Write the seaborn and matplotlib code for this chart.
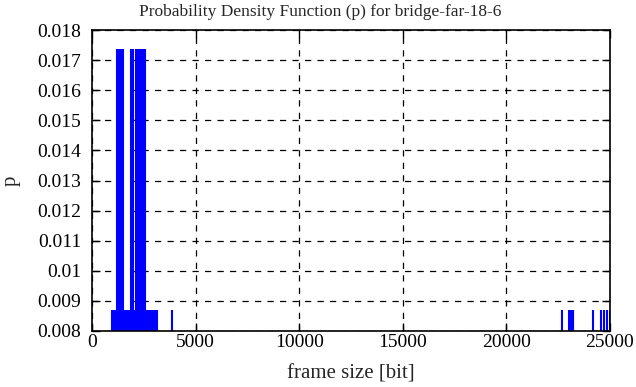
import numpy as np
import pandas as pd
import seaborn as sns
import matplotlib.pyplot as plt

# frame sizes [bit] that occur twice (p = 2/115)
tall_sizes = [1180, 1280, 1370, 1460, 1510, 1890, 1980,
              2130, 2230, 2330, 2380, 2510, 2570]
# frame sizes [bit] that occur once (p = 1/115)
low_sizes = [950, 1010, 1060, 1110, 1560, 1610, 1660, 1720, 1780, 1830,
             2060, 2440, 2640, 2700, 2750, 2810, 2860, 2920, 2970, 3030,
             3080, 3120, 3840,
             22690, 23010, 23070, 23130, 23200, 23240,
             24180, 24570, 24710, 24870, 24980]
p_tall = 0.01739
p_low = 0.008696

df = pd.DataFrame({
    "size": tall_sizes + low_sizes,
    "p": [p_tall] * len(tall_sizes) + [p_low] * len(low_sizes),
})

sns.set_style("ticks")
plt.rcParams['font.family'] = ['Liberation Serif', 'DejaVu Serif']
plt.rcParams['font.size'] = 14

fig = plt.figure(figsize=(6.36, 3.87), dpi=100)
ax = fig.add_axes([0.145, 0.145, 0.814, 0.777])

ax.vlines(df["size"], 0, df["p"], color="#0000ff", linewidth=1.5)

ax.set_xlim(0, 25000)
ax.set_ylim(0.008, 0.018)
ax.set_xticks(np.arange(0, 25001, 5000))
ax.set_yticks(np.arange(0.008, 0.01801, 0.001))
ax.set_yticklabels(["0.008", "0.009", "0.01", "0.011", "0.012", "0.013",
                    "0.014", "0.015", "0.016", "0.017", "0.018"])
ax.grid(True, color="black", linestyle=(0, (5, 5)), linewidth=0.9)
ax.tick_params(direction="in", length=6, width=1, top=True, right=True,
               labelsize=14, colors="black")
ax.tick_params(axis="y", pad=8)
ax.tick_params(axis="x", pad=2)
for s in ax.spines.values():
    s.set_linewidth(1.2)
    s.set_color("black")

fig.suptitle("Probability Density Function (p) for bridge-far-18-6",
             fontsize=12.5, x=0.503, y=0.99)
ax.set_xlabel("frame size [bit]", fontsize=15, labelpad=10)
ax.set_ylabel("p", fontsize=15, labelpad=12)

fig.savefig("out.png", dpi=100)
